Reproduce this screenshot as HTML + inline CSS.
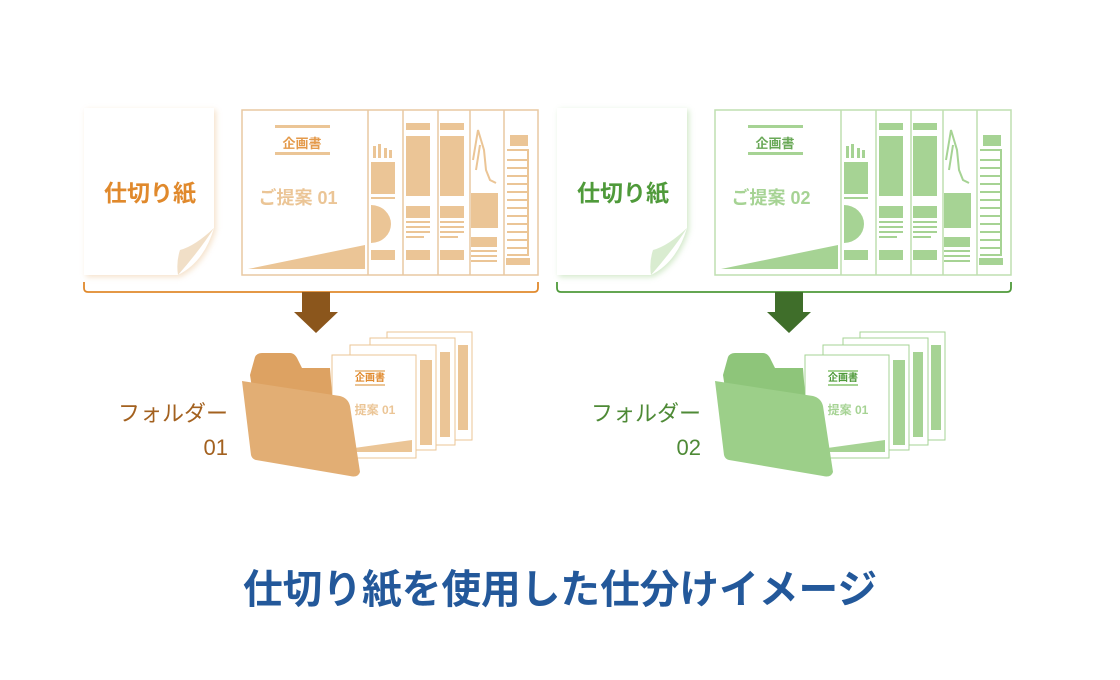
<!DOCTYPE html>
<html><head><meta charset="utf-8"><style>
html,body{margin:0;padding:0;background:#fff;width:1120px;height:680px;overflow:hidden}
svg{display:block}
.o{--t:#e0892c;--f:#ebc596;--l:#e8c9a2;--a:#8b561c;--d:#a3611f;--fa:#dda262;--fb:#e2ae74}
.g{--t:#4f9a3a;--f:#a6d394;--l:#bfdfb0;--a:#3f6e2a;--d:#4e8a36;--fa:#8ec57a;--fb:#9ccf89}
text{font-family:"Liberation Sans","Noto Sans CJK JP",sans-serif}
</style></head><body>
<svg width="1120" height="680" viewBox="0 0 1120 680" xmlns="http://www.w3.org/2000/svg">
<defs>
<filter id="sh" x="-20%" y="-20%" width="140%" height="140%"><feGaussianBlur stdDeviation="3"/></filter>
</defs>
<!-- LEFT GROUP -->
<g class="o">
 <path d="M86 110 H216 V230 Q205 265 180 277 H86 Z" style="fill:var(--f)" opacity="0.5" filter="url(#sh)"/>
 <path d="M84 108 H214 V228 Q204 262 178 275 H84 Z" fill="#fff"/>
 <path d="M214 228 Q200 250 178 275 Q176 262 180 250 Q195 246 214 228 Z" style="fill:var(--l)" opacity="0.6"/>
 <text x="150" y="201" font-size="23" font-weight="bold" text-anchor="middle" style="fill:var(--t)">仕切り紙</text>
 <g style="stroke:var(--l)" stroke-width="1.5" fill="none">
  <rect x="242" y="110" width="296" height="165"/>
  <line x1="368" y1="110" x2="368" y2="275"/><line x1="403" y1="110" x2="403" y2="275"/>
  <line x1="438" y1="110" x2="438" y2="275"/><line x1="470" y1="110" x2="470" y2="275"/>
  <line x1="504" y1="110" x2="504" y2="275"/>
 </g>
 <g style="fill:var(--f)">
  <rect x="275" y="125" width="55" height="3"/><rect x="275" y="152" width="55" height="3"/>
  <polygon points="248,269 365,245 365,269"/>
  <rect x="373" y="146" width="3" height="12"/><rect x="378" y="144" width="3" height="14"/><rect x="384" y="148" width="3" height="10"/><rect x="389" y="150" width="3" height="8"/>
  <rect x="371" y="162" width="24" height="32"/><rect x="371" y="197" width="24" height="2"/>
  <path d="M371 205 A20 19 0 0 1 371 243 Z"/><rect x="371" y="250" width="24" height="10"/>
  <rect x="406" y="123" width="24" height="7"/><rect x="406" y="136" width="24" height="60"/><rect x="406" y="206" width="24" height="12"/>
  <rect x="406" y="221" width="24" height="2"/><rect x="406" y="226" width="24" height="2"/><rect x="406" y="231" width="24" height="2"/><rect x="406" y="236" width="18" height="2"/><rect x="406" y="250" width="24" height="10"/>
  <rect x="440" y="123" width="24" height="7"/><rect x="440" y="136" width="24" height="60"/><rect x="440" y="206" width="24" height="12"/>
  <rect x="440" y="221" width="24" height="2"/><rect x="440" y="226" width="24" height="2"/><rect x="440" y="231" width="24" height="2"/><rect x="440" y="236" width="18" height="2"/><rect x="440" y="250" width="24" height="10"/>
  <rect x="471" y="193" width="27" height="35"/><rect x="471" y="237" width="26" height="10"/><rect x="471" y="250" width="26" height="2"/><rect x="471" y="255" width="26" height="2"/><rect x="471" y="260" width="26" height="2"/>
  <rect x="510" y="135" width="18" height="11"/><rect x="506" y="258" width="24" height="7"/>
 </g>
 <g style="stroke:var(--f)" stroke-width="2" fill="none">
  <path d="M473 160 L478 130 L484 150 L486 170 L490 180 L496 183"/><path d="M476 170 L480 145"/>
  <path d="M507 150 H528 V255 H507 M507 160 H528 M507 168 H528 M507 176 H528 M507 184 H528 M507 192 H528 M507 200 H528 M507 208 H528 M507 216 H528 M507 224 H528 M507 232 H528 M507 240 H528 M507 248 H528"/>
 </g>
 <text x="302" y="148" font-size="13" font-weight="bold" text-anchor="middle" style="fill:var(--t)" opacity="0.85">企画書</text>
 <text x="298" y="204" font-size="18" font-weight="bold" text-anchor="middle" style="fill:var(--f)">ご提案 01</text>
 <path d="M84 282 V288 Q84 292 88 292 H534 Q538 292 538 288 V282" style="stroke:var(--t)" stroke-width="1.8" fill="none"/>
 <polygon points="302,292 330,292 330,312 338,312 316,333 294,312 302,312" style="fill:var(--a)"/>
 <!-- stack -->
 <g style="stroke:var(--f)" stroke-width="1">
  <rect x="387" y="332" width="85" height="108" fill="#fff"/>
  <rect x="370" y="338" width="85" height="107" fill="#fff"/>
  <rect x="350" y="345" width="86" height="105" fill="#fff"/>
  <rect x="332" y="355" width="84" height="103" fill="#fff"/>
 </g>
 <g style="fill:var(--f)">
  <rect x="458" y="345" width="10" height="85"/><rect x="440" y="352" width="10" height="85"/><rect x="420" y="360" width="12" height="85"/>
  <polygon points="340,450 412,440 412,452 340,452"/>
  <rect x="355" y="370" width="30" height="2"/><rect x="355" y="384" width="30" height="2"/>
 </g>
 <text x="370" y="381" font-size="10" font-weight="bold" text-anchor="middle" style="fill:var(--t)">企画書</text>
 <text x="375" y="414" font-size="12" font-weight="bold" text-anchor="middle" style="fill:var(--f)">提案 01</text>
 <path d="M250 375 L255 357 Q257 353 262 353 H290 Q295 353 298 360 L302 368 H330 L334 420 L260 440 Z" style="fill:var(--fa)"/>
 <path d="M242 381 L340 396 Q348 398 350 406 L360 472 Q358 478 350 476 L256 460 Q252 459 251 455 Z" style="fill:var(--fb)"/>
 <text x="228" y="421" font-size="22" text-anchor="end" style="fill:var(--d)">フォルダー</text>
 <text x="228" y="455" font-size="22" text-anchor="end" style="fill:var(--d)">01</text>
</g>
<!-- RIGHT GROUP -->
<g class="g" transform="translate(473,0)">
 <path d="M86 110 H216 V230 Q205 265 180 277 H86 Z" style="fill:var(--f)" opacity="0.5" filter="url(#sh)"/>
 <path d="M84 108 H214 V228 Q204 262 178 275 H84 Z" fill="#fff"/>
 <path d="M214 228 Q200 250 178 275 Q176 262 180 250 Q195 246 214 228 Z" style="fill:var(--l)" opacity="0.6"/>
 <text x="150" y="201" font-size="23" font-weight="bold" text-anchor="middle" style="fill:var(--t)">仕切り紙</text>
 <g style="stroke:var(--l)" stroke-width="1.5" fill="none">
  <rect x="242" y="110" width="296" height="165"/>
  <line x1="368" y1="110" x2="368" y2="275"/><line x1="403" y1="110" x2="403" y2="275"/>
  <line x1="438" y1="110" x2="438" y2="275"/><line x1="470" y1="110" x2="470" y2="275"/>
  <line x1="504" y1="110" x2="504" y2="275"/>
 </g>
 <g style="fill:var(--f)">
  <rect x="275" y="125" width="55" height="3"/><rect x="275" y="152" width="55" height="3"/>
  <polygon points="248,269 365,245 365,269"/>
  <rect x="373" y="146" width="3" height="12"/><rect x="378" y="144" width="3" height="14"/><rect x="384" y="148" width="3" height="10"/><rect x="389" y="150" width="3" height="8"/>
  <rect x="371" y="162" width="24" height="32"/><rect x="371" y="197" width="24" height="2"/>
  <path d="M371 205 A20 19 0 0 1 371 243 Z"/><rect x="371" y="250" width="24" height="10"/>
  <rect x="406" y="123" width="24" height="7"/><rect x="406" y="136" width="24" height="60"/><rect x="406" y="206" width="24" height="12"/>
  <rect x="406" y="221" width="24" height="2"/><rect x="406" y="226" width="24" height="2"/><rect x="406" y="231" width="24" height="2"/><rect x="406" y="236" width="18" height="2"/><rect x="406" y="250" width="24" height="10"/>
  <rect x="440" y="123" width="24" height="7"/><rect x="440" y="136" width="24" height="60"/><rect x="440" y="206" width="24" height="12"/>
  <rect x="440" y="221" width="24" height="2"/><rect x="440" y="226" width="24" height="2"/><rect x="440" y="231" width="24" height="2"/><rect x="440" y="236" width="18" height="2"/><rect x="440" y="250" width="24" height="10"/>
  <rect x="471" y="193" width="27" height="35"/><rect x="471" y="237" width="26" height="10"/><rect x="471" y="250" width="26" height="2"/><rect x="471" y="255" width="26" height="2"/><rect x="471" y="260" width="26" height="2"/>
  <rect x="510" y="135" width="18" height="11"/><rect x="506" y="258" width="24" height="7"/>
 </g>
 <g style="stroke:var(--f)" stroke-width="2" fill="none">
  <path d="M473 160 L478 130 L484 150 L486 170 L490 180 L496 183"/><path d="M476 170 L480 145"/>
  <path d="M507 150 H528 V255 H507 M507 160 H528 M507 168 H528 M507 176 H528 M507 184 H528 M507 192 H528 M507 200 H528 M507 208 H528 M507 216 H528 M507 224 H528 M507 232 H528 M507 240 H528 M507 248 H528"/>
 </g>
 <text x="302" y="148" font-size="13" font-weight="bold" text-anchor="middle" style="fill:var(--t)" opacity="0.85">企画書</text>
 <text x="298" y="204" font-size="18" font-weight="bold" text-anchor="middle" style="fill:var(--f)">ご提案 02</text>
 <path d="M84 282 V288 Q84 292 88 292 H534 Q538 292 538 288 V282" style="stroke:var(--t)" stroke-width="1.8" fill="none"/>
 <polygon points="302,292 330,292 330,312 338,312 316,333 294,312 302,312" style="fill:var(--a)"/>
 <g style="stroke:var(--f)" stroke-width="1">
  <rect x="387" y="332" width="85" height="108" fill="#fff"/>
  <rect x="370" y="338" width="85" height="107" fill="#fff"/>
  <rect x="350" y="345" width="86" height="105" fill="#fff"/>
  <rect x="332" y="355" width="84" height="103" fill="#fff"/>
 </g>
 <g style="fill:var(--f)">
  <rect x="458" y="345" width="10" height="85"/><rect x="440" y="352" width="10" height="85"/><rect x="420" y="360" width="12" height="85"/>
  <polygon points="340,450 412,440 412,452 340,452"/>
  <rect x="355" y="370" width="30" height="2"/><rect x="355" y="384" width="30" height="2"/>
 </g>
 <text x="370" y="381" font-size="10" font-weight="bold" text-anchor="middle" style="fill:var(--t)">企画書</text>
 <text x="375" y="414" font-size="12" font-weight="bold" text-anchor="middle" style="fill:var(--f)">提案 01</text>
 <path d="M250 375 L255 357 Q257 353 262 353 H290 Q295 353 298 360 L302 368 H330 L334 420 L260 440 Z" style="fill:var(--fa)"/>
 <path d="M242 381 L340 396 Q348 398 350 406 L360 472 Q358 478 350 476 L256 460 Q252 459 251 455 Z" style="fill:var(--fb)"/>
 <text x="228" y="421" font-size="22" text-anchor="end" style="fill:var(--d)">フォルダー</text>
 <text x="228" y="455" font-size="22" text-anchor="end" style="fill:var(--d)">02</text>
</g>
<text x="560" y="603" font-size="40" font-weight="bold" text-anchor="middle" fill="#23589a" textLength="634" lengthAdjust="spacingAndGlyphs">仕切り紙を使用した仕分けイメージ</text>
</svg>
</body></html>
